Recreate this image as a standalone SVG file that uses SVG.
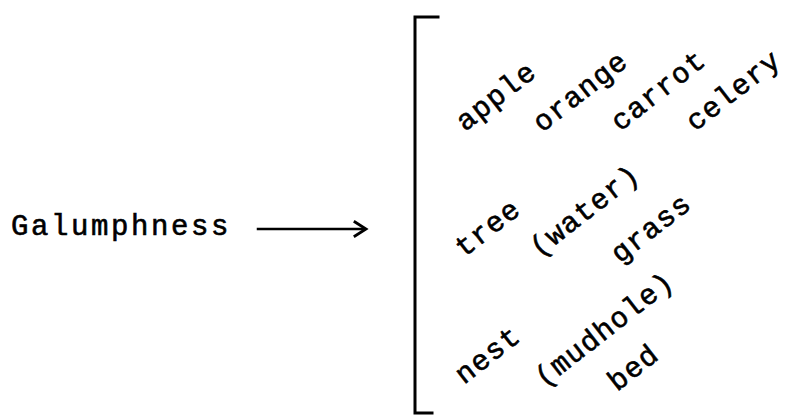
<svg xmlns="http://www.w3.org/2000/svg" width="788" height="415" viewBox="0 0 788 415">
  <style>
    .tw { font-family: "Liberation Mono", "Courier New", monospace; font-size: 29px; letter-spacing: 2.6px; fill: #000; stroke: #000; stroke-width: 0.6; }
    #items text { letter-spacing: 1.2px; }
    .ln { fill: none; stroke: #000; stroke-linecap: square; }
  </style>
  <rect width="788" height="415" fill="#fff"/>

  <g id="source">
    <text class="tw" x="11" y="235">Galumphness</text>
  </g>

  <g id="connectors">
    <line class="ln" x1="258" y1="229" x2="364" y2="229" stroke-width="2.5"/>
    <polyline class="ln" points="355,222 366,229 355,236" stroke-width="2.8" stroke-linejoin="miter"/>
  </g>

  <g id="bracket">
    <path class="ln" d="M438,17 H415 V413 H432" stroke-width="3"/>
  </g>

  <g id="items">
    <text class="tw" transform="translate(465,132) rotate(-38)">apple</text>
    <text class="tw" transform="translate(542,133) rotate(-38)">orange</text>
    <text class="tw" transform="translate(620,132) rotate(-38)">carrot</text>
    <text class="tw" transform="translate(695,132) rotate(-38)">celery</text>
    <text class="tw" transform="translate(464,258) rotate(-38)">tree</text>
    <text class="tw" transform="translate(539,258) rotate(-38)">(water)</text>
    <text class="tw" transform="translate(620,264) rotate(-38)">grass</text>
    <text class="tw" transform="translate(464,385) rotate(-38)">nest</text>
    <text class="tw" transform="translate(544,388) rotate(-38)">(mudhole)</text>
    <text class="tw" transform="translate(617,392) rotate(-38)">bed</text>
  </g>
</svg>
